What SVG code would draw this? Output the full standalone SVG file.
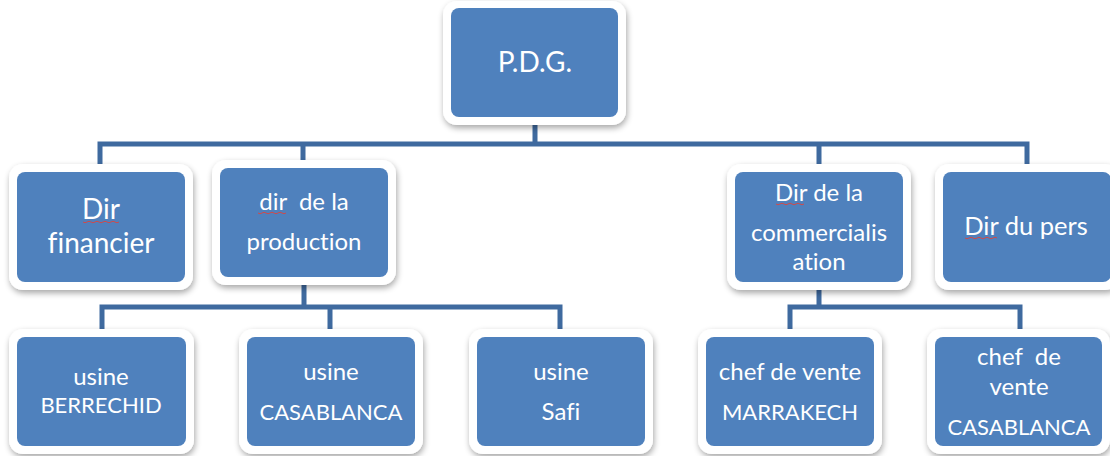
<svg xmlns="http://www.w3.org/2000/svg" width="1110" height="456" viewBox="0 0 1110 456">
<defs>
<filter id="sh" x="-10%" y="-10%" width="125%" height="130%">
<feGaussianBlur in="SourceAlpha" stdDeviation="3"/>
<feOffset dx="1" dy="3" result="b"/>
<feComponentTransfer><feFuncA type="linear" slope="0.35"/></feComponentTransfer>
<feMerge><feMergeNode/><feMergeNode in="SourceGraphic"/></feMerge>
</filter>
</defs>
<style>
.o{fill:#ffffff;filter:url(#sh)}
.i{fill:#4f81bd}
.t{font-family:Lato,"Liberation Sans",sans-serif;fill:#ffffff;text-anchor:middle;font-variant-ligatures:none;font-feature-settings:"liga" 0}
.c{fill:none;stroke:#3f6a9f;stroke-width:5;stroke-linejoin:miter}
.sq{fill:none;stroke:#d04a4a;stroke-width:1}
</style>
<rect width="1110" height="456" fill="#ffffff"/>
<g id="connectors">
<path class="c" d="M535,122 V144 M100,167 V144 H1027 V167 M303,163 V144 M819,167 V144"/>
<path class="c" d="M304,283 V307 M102,332 V307 H560 V332 M330,332 V307"/>
<path class="c" d="M819,287 V307 M790,332 V307 H1020 V332"/>
</g>
<g id="pdg">
<rect class="o" x="443" y="1" width="183" height="124" rx="14"/>
<rect class="i" x="451" y="8" width="167" height="109" rx="8"/>
<text class="t" x="535" y="72" font-size="28">P.D.G.</text>
</g>
<g id="dir-financier">
<rect class="o" x="9" y="164" width="184" height="126" rx="14"/>
<rect class="i" x="17" y="172" width="168" height="110" rx="8"/>
<text class="t" x="101" y="219" font-size="28">Dir</text>
<text class="t" x="101" y="253" font-size="28">financier</text>
<path class="sq" d="M83,222 q2,1.5 4,0 t4,0 t4,0 t4,0 t4,0 t4,0 t4,0 t4,0 t4,0"/>
</g>
<g id="dir-production">
<rect class="o" x="212" y="160" width="184" height="125" rx="14"/>
<rect class="i" x="220" y="168" width="168" height="109" rx="8"/>
<text class="t" x="304" y="210" font-size="24" xml:space="preserve">dir  de la</text>
<text class="t" x="304" y="250" font-size="24">production</text>
<path class="sq" d="M258,213 q2,1.5 4,0 t4,0 t4,0 t4,0 t4,0 t4,0 t4,0"/>
</g>
<g id="dir-commercialisation">
<rect class="o" x="727" y="164" width="184" height="126" rx="14"/>
<rect class="i" x="735" y="172" width="168" height="110" rx="8"/>
<text class="t" x="819" y="201" font-size="24">Dir de la</text>
<text class="t" x="819" y="241" font-size="24">commercialis</text>
<text class="t" x="819" y="270" font-size="24">ation</text>
<path class="sq" d="M776,204 q2,1.5 4,0 t4,0 t4,0 t4,0 t4,0 t4,0 t4,0"/>
</g>
<g id="dir-pers">
<rect class="o" x="935" y="164" width="184" height="126" rx="14"/>
<rect class="i" x="943" y="172" width="168" height="110" rx="8"/>
<text class="t" x="1026" y="235" font-size="25.5">Dir du pers</text>
<path class="sq" d="M965,238 q2,1.5 4,0 t4,0 t4,0 t4,0 t4,0 t4,0 t4,0 t4,0"/>
</g>
<g id="usine-berrechid">
<rect class="o" x="9" y="329" width="185" height="125" rx="14"/>
<rect class="i" x="17" y="337" width="169" height="109" rx="8"/>
<text class="t" x="101" y="385" font-size="24">usine</text>
<text class="t" x="101" y="413" font-size="22">BERRECHID</text>
</g>
<g id="usine-casablanca">
<rect class="o" x="239" y="329" width="184" height="125" rx="14"/>
<rect class="i" x="247" y="337" width="168" height="109" rx="8"/>
<text class="t" x="331" y="380" font-size="24">usine</text>
<text class="t" x="331" y="420" font-size="22">CASABLANCA</text>
</g>
<g id="usine-safi">
<rect class="o" x="469" y="329" width="184" height="125" rx="14"/>
<rect class="i" x="477" y="337" width="168" height="109" rx="8"/>
<text class="t" x="561" y="380" font-size="24">usine</text>
<text class="t" x="561" y="420" font-size="24">Safi</text>
</g>
<g id="chef-marrakech">
<rect class="o" x="698" y="329" width="184" height="125" rx="14"/>
<rect class="i" x="706" y="337" width="168" height="109" rx="8"/>
<text class="t" x="790" y="380" font-size="24">chef de vente</text>
<text class="t" x="790" y="420" font-size="22">MARRAKECH</text>
</g>
<g id="chef-casablanca">
<rect class="o" x="927" y="329" width="183" height="125" rx="14"/>
<rect class="i" x="935" y="337" width="167" height="109" rx="8"/>
<text class="t" x="1019" y="365" font-size="24" xml:space="preserve">chef  de</text>
<text class="t" x="1019" y="395" font-size="24">vente</text>
<text class="t" x="1019" y="435" font-size="22">CASABLANCA</text>
</g>
</svg>
